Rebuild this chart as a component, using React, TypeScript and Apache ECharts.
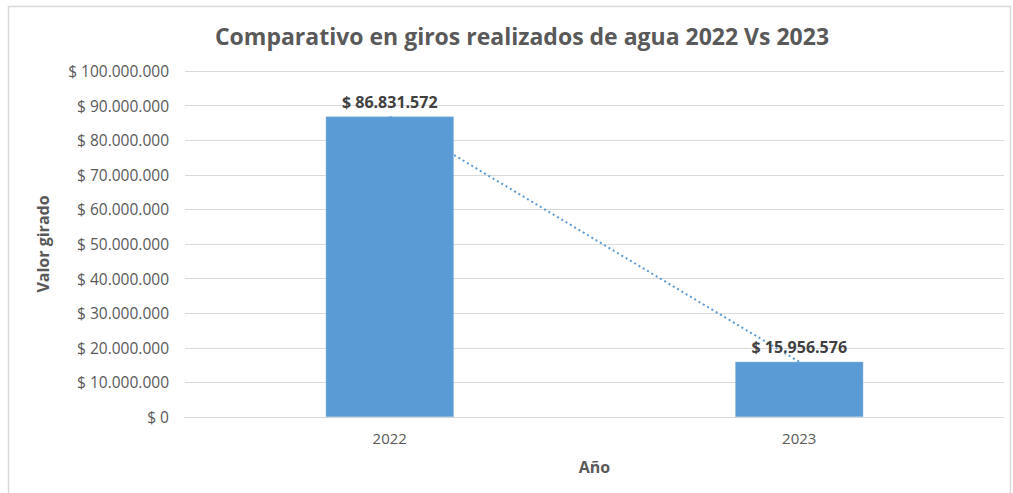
import React, { useEffect, useRef } from "react";
import * as echarts from "echarts";

const categories = ["2022", "2023"];
const values = [86831572, 15956576];
const yTicks = [0, 10000000, 20000000, 30000000, 40000000, 50000000, 60000000, 70000000, 80000000, 90000000, 100000000];

const fmt = (v: number) => "$ " + Math.round(v).toString().replace(/\B(?=(\d{3})+(?!\d))/g, ".");

const FONT = "'Open Sans', 'DejaVu Sans', sans-serif";

export default function App() {
  const ref = useRef<HTMLDivElement>(null);
  useEffect(() => {
    if (!ref.current) return;
    const chart = echarts.init(ref.current, undefined, { renderer: "svg" });
    chart.setOption({
      animation: false,
      backgroundColor: "#ffffff",
      title: {
        text: "Comparativo en giros realizados de agua 2022 Vs 2023",
        left: 517,
        top: 19,
        textAlign: "center",
        textStyle: { fontFamily: FONT, fontSize: 23, fontWeight: "bold", color: "#595959" },
      },
      graphic: [
        {
          type: "rect",
          shape: { x: 8.5, y: 6.5, width: 1002, height: 500 },
          style: { fill: "none", stroke: "#D9D9D9", lineWidth: 1.5 },
          silent: true,
          z: -1,
        },
      ],
      grid: { left: 185, right: 9, top: 71, bottom: 76 },
      xAxis: {
        type: "category",
        data: categories,
        name: "Año",
        nameLocation: "middle",
        nameGap: 42,
        nameTextStyle: { fontFamily: FONT, fontSize: 16, fontWeight: "bold", color: "#595959" },
        axisLine: { lineStyle: { color: "#D9D9D9" } },
        axisTick: { show: false },
        axisLabel: { fontFamily: FONT, fontSize: 15, color: "#595959", margin: 13 },
      },
      yAxis: {
        type: "value",
        min: yTicks[0],
        max: yTicks[yTicks.length - 1],
        interval: yTicks[1] - yTicks[0],
        name: "Valor girado",
        nameLocation: "middle",
        nameRotate: 90,
        nameGap: 134,
        nameTextStyle: { fontFamily: FONT, fontSize: 16, fontWeight: "bold", color: "#595959" },
        axisLine: { show: false },
        axisTick: { show: false },
        splitLine: { lineStyle: { color: "#D9D9D9", width: 1 } },
        axisLabel: {
          fontFamily: FONT,
          fontSize: 15.5,
          color: "#595959",
          margin: 16,
          formatter: (v: number) => fmt(v),
        },
      },
      series: [
        {
          type: "bar",
          data: values,
          barWidth: 128,
          z: 3,
          itemStyle: { color: "#5B9BD5", borderColor: "#8DB9E2", borderWidth: 0.5 },
          label: {
            show: true,
            position: "top",
            distance: 7,
            fontFamily: FONT,
            fontSize: 16,
            fontWeight: "bold",
            color: "#404040",
            formatter: (p: any) => fmt(p.value),
          },
        },
        {
          type: "line",
          data: values,
          z: 2,
          symbol: "none",
          lineStyle: { color: "#5B9BD5", width: 2, type: [2, 3] },
        },
      ],
    });
    return () => chart.dispose();
  }, []);
  return (
    <div
      ref={ref}
      style={{ position: "fixed", left: 0, top: 0, width: 1013, height: 493, background: "#fff" }}
    />
  );
}
